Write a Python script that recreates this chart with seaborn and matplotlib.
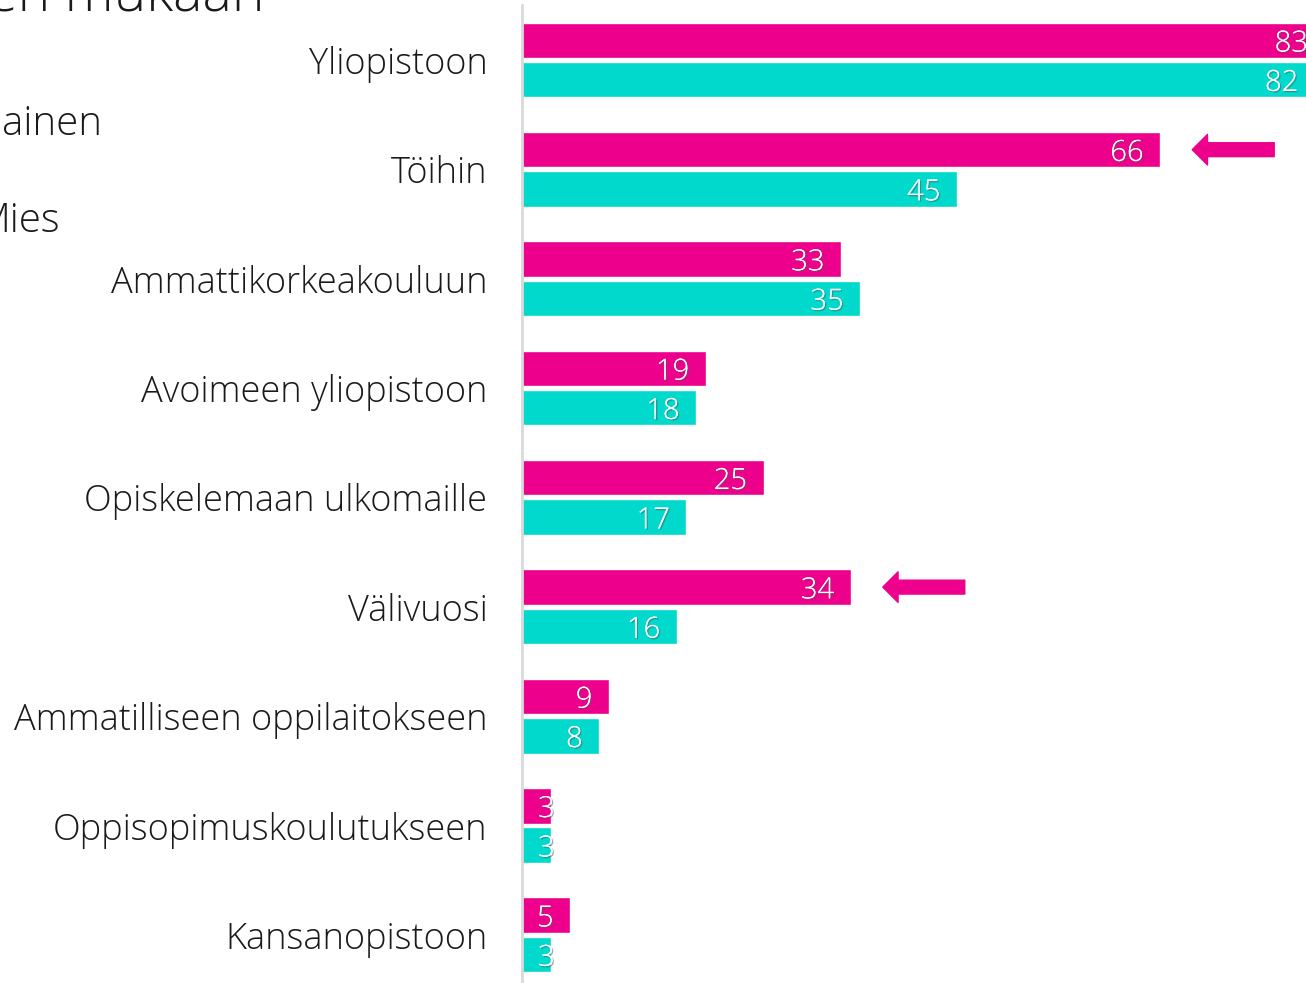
import matplotlib
matplotlib.use("Agg")
import matplotlib.pyplot as plt
import matplotlib.patheffects as pe
from matplotlib.patches import FancyArrowPatch
import seaborn as sns
import pandas as pd

categories = ["Yliopistoon", "Töihin", "Ammattikorkeakouluun", "Avoimeen yliopistoon",
              "Opiskelemaan ulkomaille", "Välivuosi", "Ammatilliseen oppilaitokseen",
              "Oppisopimuskoulutukseen", "Kansanopistoon"]
nainen = [83, 66, 33, 19, 25, 34, 9, 3, 5]
mies = [82, 45, 35, 18, 17, 16, 8, 3, 3]
series = ["Nainen", "Mies"]
colors = ["#EC008C", "#00D9CB"]
arrow_rows = ["Töihin", "Välivuosi"]
title = "Jatkosuunnitelmat sukupuolien mukaan"

df = pd.DataFrame({
    "Kategoria": categories * 2,
    "Osuus": nainen + mies,
    "Sukupuoli": [series[0]] * len(categories) + [series[1]] * len(categories),
})

sns.set_theme(style="white")
FONT = ["Open Sans", "DejaVu Sans"]
plt.rcParams["font.family"] = FONT

W, H, DPI = 1306, 983, 100
fig = plt.figure(figsize=(W / DPI, H / DPI), dpi=DPI)
ax = fig.add_axes([522 / W, 0, 1 - 522 / W, 1 - 5 / H])

sns.barplot(data=df, y="Kategoria", x="Osuus", hue="Sukupuoli", order=categories,
            hue_order=series, palette=colors, orient="h", width=0.72, gap=0.1,
            saturation=1, legend=False, ax=ax)

px_per_unit = 9.67
ax.set_xlim(0, (W - 522) / px_per_unit)
ax.set_ylim(8.44, -0.503)
ax.set_xlabel("")
ax.set_ylabel("")
ax.set_xticks([])
for s in ["top", "right", "bottom"]:
    ax.spines[s].set_visible(False)
ax.spines["left"].set_color("#D9D9D9")
ax.spines["left"].set_linewidth(2)
ax.tick_params(axis="y", length=0, pad=25, labelsize=26, labelcolor="#1a1a1a")
for lbl in ax.get_yticklabels():
    lbl.set_fontweight("light")

shadow = [pe.withSimplePatchShadow(offset=(1, -1), shadow_rgbFace="#555555", alpha=0.5), pe.Normal()]
for cont in ax.containers:
    for patch in cont.patches:
        w = patch.get_width()
        yc = patch.get_y() + patch.get_height() / 2
        wpx = w * px_per_unit
        if wpx > 45:
            ax.annotate(f"{w:g}", (w, yc), xytext=(-12, 0), textcoords="offset points",
                        ha="right", va="center_baseline", color="white", fontsize=21,
                        fontweight="light", path_effects=shadow, annotation_clip=False)
        else:
            ax.annotate(f"{w:g}", (0, yc), xytext=(11.5, 0), textcoords="offset points",
                        ha="left", va="center_baseline", color="white", fontsize=21,
                        fontweight="light", path_effects=shadow, annotation_clip=False)

# arrows pointing at highlighted female bars
pink = ax.containers[0]
for name in arrow_rows:
    i = categories.index(name)
    patch = pink.patches[i]
    yc = patch.get_y() + patch.get_height() / 2
    end = patch.get_width()
    x_head = end + 32 / px_per_unit
    x_tail = end + 114 / px_per_unit
    arr = FancyArrowPatch((x_tail, yc), (x_head, yc),
                          arrowstyle="simple,head_length=1.1,head_width=2.2,tail_width=1",
                          mutation_scale=10, color=colors[0], shrinkA=0, shrinkB=0,
                          clip_on=False)
    ax.add_patch(arr)

fig.text(265 / W, 1 - 11 / H, title, ha="right", va="baseline", fontsize=40,
         fontweight="light", color="#1a1a1a")
fig.text(103 / W, 1 - 135 / H, series[0], ha="right", va="baseline", fontsize=29,
         fontweight="light", color="#1a1a1a")
fig.text(60 / W, 1 - 232 / H, series[1], ha="right", va="baseline", fontsize=29,
         fontweight="light", color="#1a1a1a")

fig.savefig("out.png", dpi=DPI)
